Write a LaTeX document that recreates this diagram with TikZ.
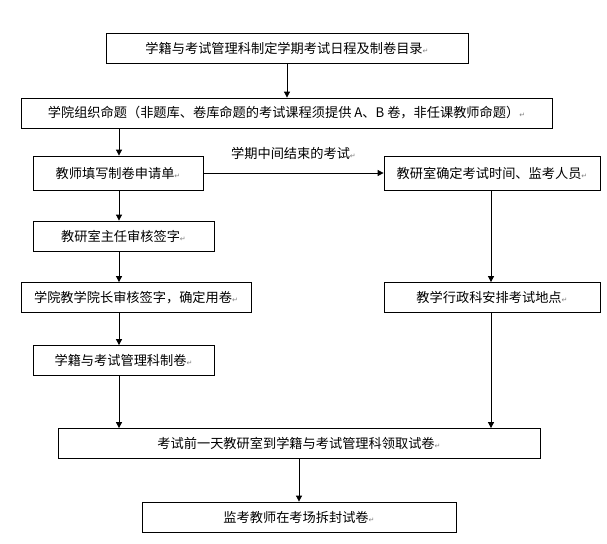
\documentclass[tikz,border=0pt]{standalone}
\usepackage{fontspec}
\usepackage{tikz}
\usetikzlibrary{arrows.meta}
\usetikzlibrary{positioning}
\newfontfamily\cjk{Noto Sans CJK SC}
\newfontfamily\dejavu{DejaVu Sans}
\newcommand{\parmark}{{\dejavu\color{gray}\fontsize{7}{7}\selectfont ↵}}
\tikzset{
  proc/.style={draw, line width=0.8pt, minimum height=30pt, inner sep=0pt,
    font=\cjk\fontsize{13.2}{15}\selectfont},
  flow/.style={line width=0.8pt, -{Triangle[length=6pt,width=6pt]}},
  remark/.style={font=\cjk\fontsize{13.2}{15}\selectfont, inner sep=0pt},
}

\begin{document}
\begin{tikzpicture}[x=1pt, y=-1pt]
      \useasboundingbox (0,0) rectangle (607,543);
      \node [proc, minimum width=362] (plan) at (287,48.5) {学籍与考试管理科制定学期考试日程及制卷目录\parmark};
      \node [proc, minimum width=531] (setexam) at (286.5,113) {学院组织命题（非题库、卷库命题的考试课程须提供 A、B 卷，非任课教师命题）\parmark};
      \node [proc, minimum width=170, minimum height=34] (apply) at (118,173) {教师填写制卷申请单\parmark};
      \node [proc, minimum width=216, minimum height=34] (time) at (492,173) {教研室确定考试时间、监考人员\parmark};
      \node [proc, minimum width=181] (director) at (123.5,236) {教研室主任审核签字\parmark};
      \node [proc, minimum width=230] (dean) at (136,297.5) {学院教学院长审核签字，确定用卷\parmark};
      \node [proc, minimum width=216] (place) at (492,297.5) {教学行政科安排考试地点\parmark};
      \node [proc, minimum width=181] (print) at (123.5,360.5) {学籍与考试管理科制卷\parmark};
      \node [proc, minimum width=482] (fetch) at (299,443.5) {考试前一天教研室到学籍与考试管理科领取试卷\parmark};
      \node [proc, minimum width=314] (unseal) at (299,517) {监考教师在考场拆封试卷\parmark};

      \coordinate (lx) at (119,0);
      \coordinate (rx) at (491,0);

      \draw [flow] (plan.south) -- (plan.south |- setexam.north);
      \draw [flow] (setexam.south -| lx) -- (apply.north -| lx);
      \draw [flow] (apply.south -| lx) -- (director.north -| lx);
      \draw [flow] (director.south -| lx) -- (dean.north -| lx);
      \draw [flow] (dean.south -| lx) -- (print.north -| lx);
      \draw [flow] (print.south -| lx) -- (fetch.north -| lx);
      \draw [flow] (apply) -- node [remark, above=13pt] (midterm) {学期中间结束的考试\parmark} (time);
      \draw [flow] (time.south -| rx) -- (place.north -| rx);
      \draw [flow] (place.south -| rx) -- (fetch.north -| rx);
      \draw [flow] (fetch.south -| unseal) -- (unseal.north);
    \end{tikzpicture}
\end{document}
